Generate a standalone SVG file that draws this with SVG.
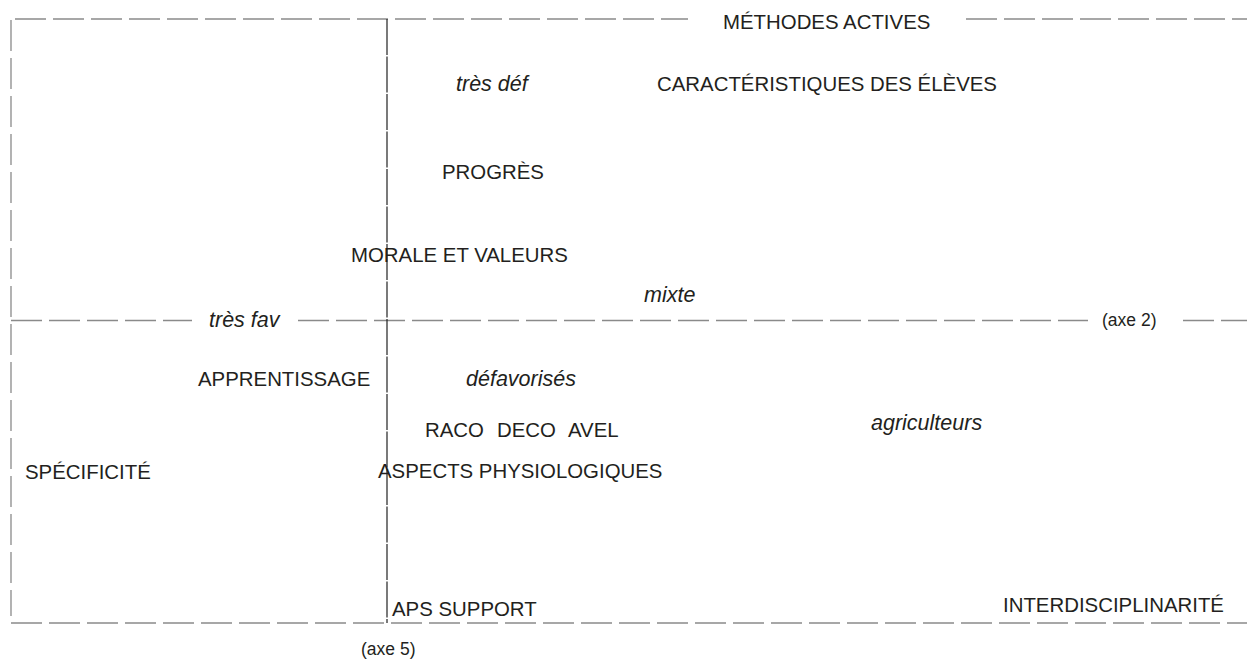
<svg xmlns="http://www.w3.org/2000/svg" width="1247" height="660" viewBox="0 0 1247 660">
<style>
.d{stroke:#8a8a8a;stroke-width:1.3;fill:none;stroke-dasharray:31 7}
.ax{stroke:#222;stroke-width:1.2;fill:none;stroke-dasharray:36 1.5}
text{font-family:"Liberation Sans",Arial,Helvetica,sans-serif;fill:#231f20}
.r{font-size:20.4px}
.i{font-size:21.5px;font-style:italic}
.s{font-size:17.5px}
</style>
<rect width="1247" height="660" fill="#fff"/>
<g id="connectors">
<line class="d" x1="15" y1="19" x2="688" y2="19"/>
<line class="d" x1="966" y1="19" x2="1247" y2="19"/>
<line class="d" x1="11" y1="20" x2="11" y2="616"/>
<line class="d" x1="11" y1="320.5" x2="192" y2="320.5"/>
<line class="d" x1="298" y1="320.5" x2="1088" y2="320.5"/>
<line class="d" x1="1183" y1="320.5" x2="1247" y2="320.5"/>
<line class="d" x1="11" y1="623" x2="1247" y2="623"/>
<line class="ax" x1="387" y1="19" x2="387" y2="623"/>
</g>
<g id="n-methodes"><text class="r" x="723" y="29">MÉTHODES ACTIVES</text></g>
<g id="n-tresdef"><text class="i" x="456" y="91">très déf</text></g>
<g id="n-caract"><text class="r" x="657" y="91">CARACTÉRISTIQUES DES ÉLÈVES</text></g>
<g id="n-progres"><text class="r" x="442" y="179">PROGRÈS</text></g>
<g id="n-morale"><text class="r" x="351" y="262">MORALE ET VALEURS</text></g>
<g id="n-mixte"><text class="i" x="644" y="302">mixte</text></g>
<g id="n-tresfav"><text class="i" x="209" y="327">très fav</text></g>
<g id="n-axe2"><text class="s" x="1102" y="326">(axe 2)</text></g>
<g id="n-apprentissage"><text class="r" x="198" y="386">APPRENTISSAGE</text></g>
<g id="n-defavorises"><text class="i" x="466" y="386">défavorisés</text></g>
<g id="n-agriculteurs"><text class="i" x="871" y="430">agriculteurs</text></g>
<g id="n-raco"><text class="r" x="425" y="437">RACO</text></g>
<g id="n-deco"><text class="r" x="497" y="437">DECO</text></g>
<g id="n-avel"><text class="r" x="568" y="437">AVEL</text></g>
<g id="n-specificite"><text class="r" x="25" y="479">SPÉCIFICITÉ</text></g>
<g id="n-aspects"><text class="r" x="378" y="478">ASPECTS PHYSIOLOGIQUES</text></g>
<g id="n-aps"><text class="r" x="392" y="616">APS SUPPORT</text></g>
<g id="n-interdisc"><text class="r" x="1003" y="612">INTERDISCIPLINARITÉ</text></g>
<g id="n-axe5"><text class="s" x="361" y="655">(axe 5)</text></g>
</svg>
